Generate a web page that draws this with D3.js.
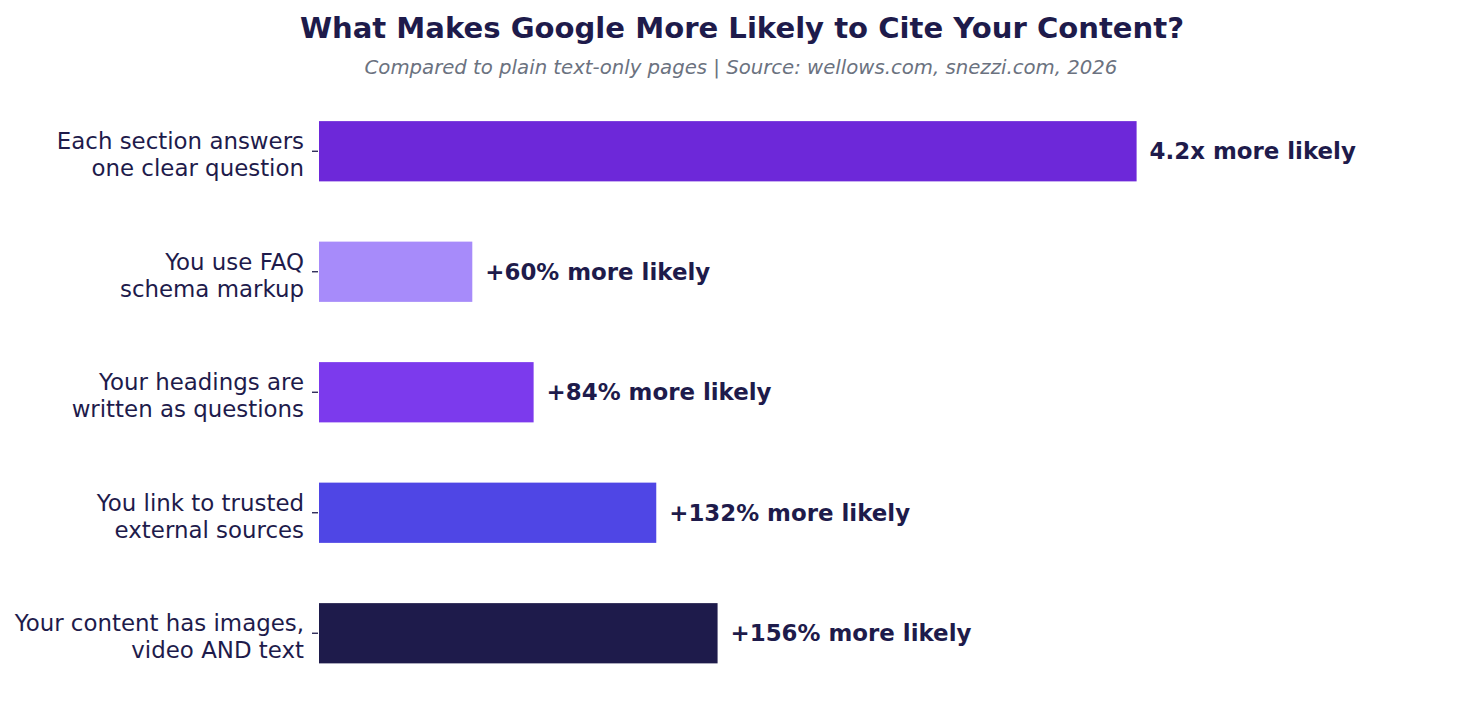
<!DOCTYPE html>
<html>
<head>
<meta charset="utf-8">
<script src="https://cdn.jsdelivr.net/npm/d3@7.9.0/dist/d3.min.js"></script>
<style>
  body { margin: 0; background: #fff; }
  svg, svg text { font-family: "DejaVu Sans", sans-serif; }
</style>
</head>
<body>
<svg id="chart" width="1484" height="705"></svg>
<script>
// Data
const categories = [
  ["Each section answers", "one clear question"],
  ["You use FAQ", "schema markup"],
  ["Your headings are", "written as questions"],
  ["You link to trusted", "external sources"],
  ["Your content has images,", "video AND text"]
];
const upliftPct = [320, 60, 84, 132, 156];
const valueLabels = ["4.2x more likely", "+60% more likely", "+84% more likely", "+132% more likely", "+156% more likely"];
const barColors = ["#6D28D9", "#A78BFA", "#7C3AED", "#4F46E5", "#1E1B4B"];

const ink = "#1E1B4B";
const width = 1484, height = 705;
const margin = { top: 91, right: 143, bottom: 11.5, left: 319 };

const svg = d3.select("#chart");

// Title and subtitle
svg.append("text")
  .attr("x", 742).attr("y", 38)
  .attr("text-anchor", "middle")
  .attr("font-size", 29.1).attr("font-weight", "bold")
  .attr("fill", ink)
  .text("What Makes Google More Likely to Cite Your Content?");

svg.append("text")
  .attr("x", 741).attr("y", 74)
  .attr("text-anchor", "middle")
  .attr("font-size", 19.7).attr("font-style", "italic")
  .attr("fill", "#6B7280")
  .text("Compared to plain text-only pages | Source: wellows.com, snezzi.com, 2026");

const x = d3.scaleLinear()
  .domain([0, 400])
  .range([margin.left, width - margin.right]);

const y = d3.scaleBand()
  .domain(d3.range(categories.length))
  .range([margin.top, height - margin.bottom])
  .paddingInner(0.5)
  .paddingOuter(0.25);

// bars
svg.append("g")
  .selectAll("rect")
  .data(upliftPct)
  .join("rect")
  .attr("x", x(0))
  .attr("y", (d, i) => y(i))
  .attr("width", d => x(d) - x(0))
  .attr("height", y.bandwidth())
  .attr("fill", (d, i) => barColors[i]);

// value labels
svg.append("g")
  .selectAll("text")
  .data(upliftPct)
  .join("text")
  .attr("x", d => x(d) + 13)
  .attr("y", (d, i) => y(i) + y.bandwidth() / 2)
  .attr("dy", "0.35em")
  .attr("font-size", 22.9).attr("font-weight", "bold")
  .attr("fill", ink)
  .text((d, i) => valueLabels[i]);

// y axis with ticks
const yAxis = d3.axisLeft(y).tickSize(6).tickPadding(8).tickFormat(() => "");
const gy = svg.append("g")
  .attr("transform", `translate(${margin.left - 1},0)`)
  .attr("font-family", "DejaVu Sans")
  .call(yAxis);
gy.select(".domain").remove();
gy.selectAll(".tick line").attr("stroke", ink).attr("stroke-width", 1.3);

// two-line category labels
gy.selectAll(".tick text").remove();
gy.selectAll(".tick").each(function (d) {
  const t = d3.select(this).append("text")
    .attr("x", -14)
    .attr("text-anchor", "end")
    .attr("font-size", 22.9)
    .attr("fill", ink);
  categories[d].forEach((line, k) => {
    t.append("tspan")
      .attr("x", -14)
      .attr("y", k === 0 ? -2 : 25)
      .text(line);
  });
});
</script>
</body>
</html>
